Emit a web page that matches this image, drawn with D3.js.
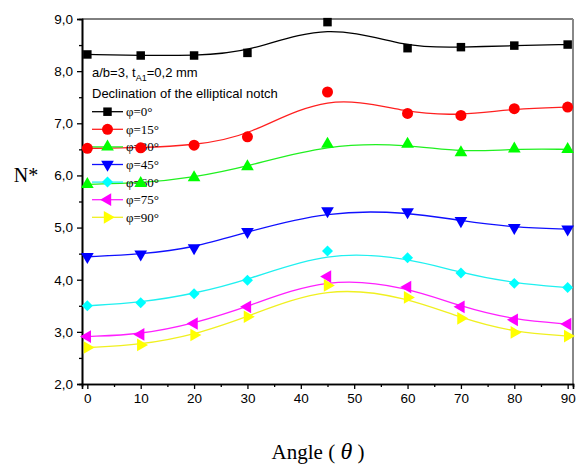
<!DOCTYPE html>
<html>
<head>
<meta charset="utf-8">
<script src="https://cdn.jsdelivr.net/npm/d3@7"></script>
<style>
  body { margin: 0; background: #fff; }
</style>
</head>
<body>
<svg id="chart" width="581" height="464"></svg>
<script>
// Data
var angles = [0, 10, 20, 30, 45, 60, 70, 80, 90];
var phi0  = [8.32, 8.30, 8.30, 8.35, 8.94, 8.44, 8.46, 8.49, 8.51];
var phi15 = [6.52, 6.53, 6.58, 6.74, 7.60, 7.19, 7.15, 7.28, 7.31];
var phi30 = [5.83, 5.85, 5.96, 6.17, 6.60, 6.60, 6.44, 6.51, 6.50];
var phi45 = [4.44, 4.49, 4.61, 4.92, 5.32, 5.30, 5.13, 5.00, 4.97];
var phi60 = [3.50, 3.56, 3.73, 3.99, 4.55, 4.42, 4.13, 3.93, 3.85];
var phi75 = [2.91, 2.95, 3.16, 3.48, 4.06, 3.86, 3.48, 3.23, 3.15];
var phi90 = [2.70, 2.75, 2.94, 3.29, 3.89, 3.66, 3.26, 2.99, 2.92];
var seriesNames = ["φ=0°", "φ=15°", "φ=30°", "φ=45°", "φ=60°", "φ=75°", "φ=90°"];
var xTicks = [0, 10, 20, 30, 40, 50, 60, 70, 80, 90];
var yTicks = [2, 3, 4, 5, 6, 7, 8, 9];

var seriesValues = [phi0, phi15, phi30, phi45, phi60, phi75, phi90];
var colors = ["#000000", "#ff0000", "#00ff00", "#0000ff", "#00ffff", "#ff00ff", "#ffff00"];
var lineColors = ["#000000", "#ff2020", "#20f020", "#1010ff", "#20f0f0", "#ff20ff", "#f0f020"];
var shapes = [
  {type: d3.symbolSquare, size: 72, rot: 0},
  {type: d3.symbolCircle, size: 95, rot: 0},
  {type: d3.symbolTriangle, size: 70, rot: 0},
  {type: d3.symbolTriangle, size: 70, rot: 180},
  {type: d3.symbolSquare, size: 60, rot: 45},
  {type: d3.symbolTriangle, size: 70, rot: -90},
  {type: d3.symbolTriangle, size: 70, rot: 90}
];

var svg = d3.select("#chart");
var plotL = 82, plotR = 573, plotT = 19, plotB = 384;

var x = d3.scaleLinear().domain([-1, 91]).range([plotL, plotR]);
var y = d3.scaleLinear().domain([2, 9]).range([plotB, plotT]);
var comma = function(v) { return d3.format(".1f")(v).replace(".", ","); };

// frame (top and right)
svg.append("line").attr("x1", plotL).attr("x2", plotR).attr("y1", plotT).attr("y2", plotT)
  .attr("stroke", "#000").attr("stroke-width", 1);
svg.append("line").attr("x1", plotR).attr("x2", plotR).attr("y1", plotT).attr("y2", plotB)
  .attr("stroke", "#888").attr("stroke-width", 2);

// axes
var xAxis = svg.append("g").attr("transform", "translate(0," + plotB + ")")
  .call(d3.axisBottom(x).tickValues(xTicks).tickSize(5).tickPadding(4).tickFormat(d3.format("d")));
var xMinor = svg.append("g").attr("transform", "translate(0," + plotB + ")")
  .call(d3.axisBottom(x).tickValues(d3.range(5, 90, 10)).tickSize(3).tickFormat(""));
var yAxis = svg.append("g").attr("transform", "translate(" + plotL + ",0)")
  .call(d3.axisLeft(y).tickValues(yTicks).tickSize(5).tickPadding(4).tickFormat(comma));
var yMinor = svg.append("g").attr("transform", "translate(" + plotL + ",0)")
  .call(d3.axisLeft(y).tickValues(d3.range(2.5, 9, 1)).tickSize(3).tickFormat(""));

[xAxis, xMinor, yAxis, yMinor].forEach(function(g) {
  g.select(".domain").attr("stroke", "#000").attr("stroke-width", 1.6);
  g.selectAll(".tick line").attr("stroke", "#000").attr("stroke-width", 1.3);
  g.selectAll("text").attr("font-family", "Liberation Sans, Arial, sans-serif")
    .attr("font-size", 13.5).attr("fill", "#000");
});

// curves (smoothed) and markers
var line = d3.line()
  .x(function(d) { return x(d[0]); })
  .y(function(d) { return y(d[1]); })
  .curve(d3.curveBasis);

seriesValues.forEach(function(vals, i) {
  var pts = angles.map(function(a, j) { return [a, vals[j]]; });
  svg.append("path").datum(pts)
    .attr("d", line)
    .attr("fill", "none")
    .attr("stroke", lineColors[i])
    .attr("stroke-width", 1.3);
});

// legend
var lg = svg.append("g");
lg.append("text").attr("x", 92).attr("y", 77)
  .attr("font-family", "Liberation Sans, Arial, sans-serif").attr("font-size", 13)
  .call(function(t) {
    t.append("tspan").text("a/b=3, t");
    t.append("tspan").attr("font-size", 9).attr("dy", 4).text("A1");
    t.append("tspan").attr("dy", -4).text("=0,2 mm");
  });
lg.append("text").attr("x", 92).attr("y", 98)
  .attr("font-family", "Liberation Sans, Arial, sans-serif").attr("font-size", 13)
  .text("Declination of the elliptical notch");

seriesNames.forEach(function(name, i) {
  var yy = 111.7 + i * 17.6;
  lg.append("line").attr("x1", 92).attr("x2", 123).attr("y1", yy).attr("y2", yy)
    .attr("stroke", lineColors[i]).attr("stroke-width", 1.3);
  lg.append("path")
    .attr("d", d3.symbol().type(shapes[i].type).size(shapes[i].size)())
    .attr("transform", "translate(107.5," + yy + ") rotate(" + shapes[i].rot + ")")
    .attr("fill", colors[i]);
  lg.append("text").attr("x", 126).attr("y", yy + 4.5)
    .attr("font-family", "Liberation Serif, Times New Roman, serif").attr("font-size", 13)
    .attr("fill", "#000")
    .text(name);
});

seriesValues.forEach(function(vals, i) {
  svg.append("g").selectAll("path")
    .data(angles.map(function(a, j) { return [a, vals[j]]; }))
    .enter().append("path")
    .attr("d", d3.symbol().type(shapes[i].type).size(shapes[i].size)())
    .attr("transform", function(d) {
      return "translate(" + x(d[0]) + "," + y(d[1]) + ") rotate(" + shapes[i].rot + ")";
    })
    .attr("fill", colors[i]);
});

// axis titles
svg.append("text").attr("x", 26).attr("y", 182)
  .attr("text-anchor", "middle")
  .attr("font-family", "Liberation Serif, Times New Roman, serif").attr("font-size", 20)
  .text("N*");
svg.append("text").attr("x", 318).attr("y", 459)
  .attr("text-anchor", "middle")
  .attr("font-family", "Liberation Serif, Times New Roman, serif").attr("font-size", 21)
  .call(function(t) {
    t.append("tspan").text("Angle ( ");
    t.append("tspan").attr("font-style", "italic").attr("font-size", 24).text("θ");
    t.append("tspan").text(" )");
  });
</script>
</body>
</html>
